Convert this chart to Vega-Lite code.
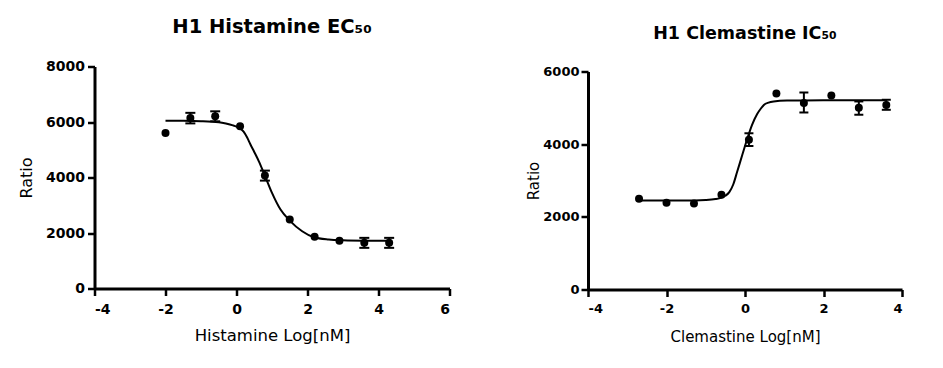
{
  "$schema": "https://vega.github.io/schema/vega-lite/v6.json",
  "background": "white",
  "padding": {"left": 17.5, "top": 16.5, "right": 5, "bottom": 5},
  "spacing": 74.5,
  "config": {
    "view": {"stroke": null},
    "font": "DejaVu Sans",
    "axis": {"grid": false, "domainColor": "black", "domainWidth": 3, "tickColor": "black", "tickWidth": 2.5, "tickSize": 7, "labelFont": "DejaVu Sans", "labelFontWeight": "bold", "labelColor": "black", "titleFont": "DejaVu Sans", "titleFontWeight": "normal", "titleColor": "black"},
    "title": {"font": "DejaVu Sans", "fontWeight": "bold", "color": "black", "anchor": "middle"}
  },
  "datasets": {
    "hist_pts": [
      {"x": -2.0, "y": 5600},
      {"x": -1.3, "y": 6140, "lo": 5950, "hi": 6330},
      {"x": -0.6, "y": 6205, "lo": 6025, "hi": 6385},
      {"x": 0.1, "y": 5845},
      {"x": 0.8, "y": 4068, "lo": 3888, "hi": 4248},
      {"x": 1.5, "y": 2482},
      {"x": 2.2, "y": 1861},
      {"x": 2.9, "y": 1725},
      {"x": 3.6, "y": 1645, "lo": 1465, "hi": 1825},
      {"x": 4.3, "y": 1645, "lo": 1465, "hi": 1825}
    ],
    "hist_fit": [
      {"x": -2.0, "y": 6045}, {"x": -1.5, "y": 6042}, {"x": -1.0, "y": 6030}, {"x": -0.5, "y": 5990},
      {"x": -0.3, "y": 5945}, {"x": -0.1, "y": 5880}, {"x": 0.0, "y": 5835}, {"x": 0.1, "y": 5770},
      {"x": 0.2, "y": 5650}, {"x": 0.3, "y": 5440}, {"x": 0.39, "y": 5200}, {"x": 0.5, "y": 4920},
      {"x": 0.63, "y": 4583}, {"x": 0.8, "y": 4068}, {"x": 1.0, "y": 3445}, {"x": 1.24, "y": 2844},
      {"x": 1.5, "y": 2448}, {"x": 1.85, "y": 2063}, {"x": 2.18, "y": 1847}, {"x": 2.6, "y": 1765},
      {"x": 3.0, "y": 1738}, {"x": 3.6, "y": 1725}, {"x": 4.3, "y": 1722}
    ],
    "clem_pts": [
      {"x": -2.7, "y": 2497},
      {"x": -2.0, "y": 2385},
      {"x": -1.3, "y": 2365},
      {"x": -0.6, "y": 2607},
      {"x": 0.1, "y": 4125, "lo": 3950, "hi": 4300},
      {"x": 0.8, "y": 5392},
      {"x": 1.5, "y": 5130, "lo": 4872, "hi": 5422},
      {"x": 2.2, "y": 5340},
      {"x": 2.9, "y": 5005, "lo": 4810, "hi": 5176},
      {"x": 3.6, "y": 5080, "lo": 4946, "hi": 5222}
    ],
    "clem_fit": [
      {"x": -2.7, "y": 2450}, {"x": -2.0, "y": 2450}, {"x": -1.3, "y": 2452}, {"x": -1.0, "y": 2462},
      {"x": -0.75, "y": 2490}, {"x": -0.6, "y": 2530}, {"x": -0.5, "y": 2580}, {"x": -0.4, "y": 2680},
      {"x": -0.3, "y": 2890}, {"x": -0.2, "y": 3240}, {"x": -0.07, "y": 3700}, {"x": 0.05, "y": 4120},
      {"x": 0.18, "y": 4530}, {"x": 0.31, "y": 4830}, {"x": 0.4, "y": 4975}, {"x": 0.48, "y": 5080},
      {"x": 0.6, "y": 5145}, {"x": 0.73, "y": 5175}, {"x": 1.07, "y": 5200}, {"x": 1.5, "y": 5205},
      {"x": 2.5, "y": 5207}, {"x": 3.6, "y": 5208}
    ]
  },
  "hconcat": [
    {
      "width": 355,
      "height": 222,
      "title": {"text": "H1 Histamine EC₅₀", "fontSize": 19.5, "offset": 22.5},
      "encoding": {
        "x": {"field": "x", "type": "quantitative", "scale": {"domain": [-4, 6], "nice": false, "zero": false},
          "axis": {"values": [-4, -2, 0, 2, 4, 6], "title": "Histamine Log[nM]", "labelFontSize": 14, "titleFontSize": 16.5, "labelPadding": 6.5, "titlePadding": 11.5,
            "labelExpr": "datum.value < 0 ? '-' + (-datum.value) : '' + datum.value"}},
        "y": {"field": "y", "type": "quantitative", "scale": {"domain": [0, 8000], "nice": false},
          "axis": {"values": [0, 2000, 4000, 6000, 8000], "title": "Ratio", "labelFontSize": 14, "titleFontSize": 16, "labelPadding": 3, "titlePadding": 11.5, "format": "d"}}
      },
      "layer": [
        {"data": {"name": "hist_fit"}, "mark": {"type": "line", "color": "black", "strokeWidth": 2, "interpolate": "monotone"}},
        {"data": {"name": "hist_pts"}, "transform": [{"filter": "isValid(datum.lo)"}], "mark": {"type": "rule", "color": "black", "strokeWidth": 2},
          "encoding": {"y": {"field": "lo", "type": "quantitative"}, "y2": {"field": "hi"}}},
        {"data": {"name": "hist_pts"}, "transform": [{"filter": "isValid(datum.lo)"}], "mark": {"type": "tick", "orient": "horizontal", "size": 10, "thickness": 2, "color": "black", "opacity": 1},
          "encoding": {"y": {"field": "lo", "type": "quantitative"}}},
        {"data": {"name": "hist_pts"}, "transform": [{"filter": "isValid(datum.lo)"}], "mark": {"type": "tick", "orient": "horizontal", "size": 10, "thickness": 2, "color": "black", "opacity": 1},
          "encoding": {"y": {"field": "hi", "type": "quantitative"}}},
        {"data": {"name": "hist_pts"}, "mark": {"type": "circle", "size": 64, "color": "black", "opacity": 1}}
      ]
    },
    {
      "width": 314,
      "height": 223,
      "title": {"text": "H1 Clemastine IC₅₀", "fontSize": 17.5, "offset": 23},
      "encoding": {
        "x": {"field": "x", "type": "quantitative", "scale": {"domain": [-4, 4], "nice": false, "zero": false},
          "axis": {"values": [-4, -2, 0, 2, 4], "title": "Clemastine Log[nM]", "labelFontSize": 13, "titleFontSize": 15, "labelPadding": 6, "titlePadding": 13.5,
            "labelExpr": "datum.value < 0 ? '-' + (-datum.value) : '' + datum.value"}},
        "y": {"field": "y", "type": "quantitative", "scale": {"domain": [0, 6000], "nice": false, "range": [223, 5]},
          "axis": {"values": [0, 2000, 4000, 6000], "title": "Ratio", "labelFontSize": 13, "titleFontSize": 15, "labelPadding": 2, "titlePadding": 1.5, "format": "d"}}
      },
      "layer": [
        {"data": {"name": "clem_fit"}, "mark": {"type": "line", "color": "black", "strokeWidth": 2, "interpolate": "monotone"}},
        {"data": {"name": "clem_pts"}, "transform": [{"filter": "isValid(datum.lo)"}], "mark": {"type": "rule", "color": "black", "strokeWidth": 2},
          "encoding": {"y": {"field": "lo", "type": "quantitative"}, "y2": {"field": "hi"}}},
        {"data": {"name": "clem_pts"}, "transform": [{"filter": "isValid(datum.lo)"}], "mark": {"type": "tick", "orient": "horizontal", "size": 9, "thickness": 2, "color": "black", "opacity": 1},
          "encoding": {"y": {"field": "lo", "type": "quantitative"}}},
        {"data": {"name": "clem_pts"}, "transform": [{"filter": "isValid(datum.lo)"}], "mark": {"type": "tick", "orient": "horizontal", "size": 9, "thickness": 2, "color": "black", "opacity": 1},
          "encoding": {"y": {"field": "hi", "type": "quantitative"}}},
        {"data": {"name": "clem_pts"}, "mark": {"type": "circle", "size": 64, "color": "black", "opacity": 1}}
      ]
    }
  ]
}
